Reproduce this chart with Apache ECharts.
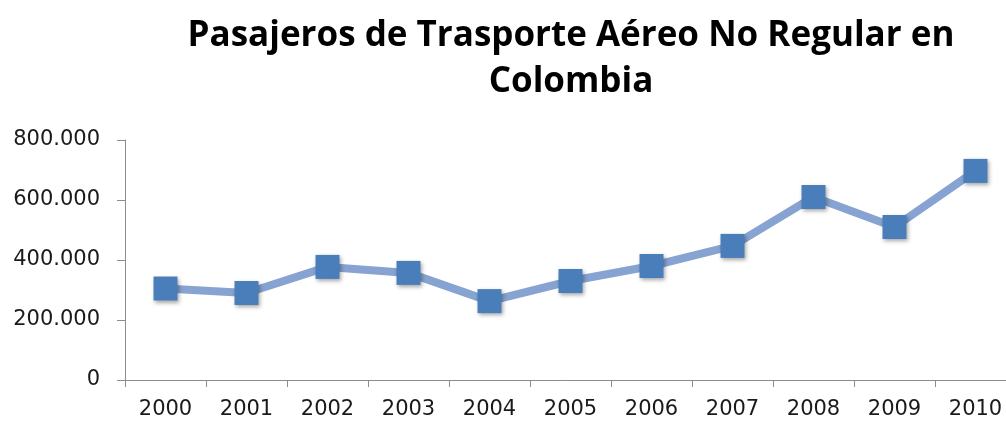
<!DOCTYPE html>
<html>
<head>
<meta charset="utf-8">
<script src="https://cdn.jsdelivr.net/npm/echarts@6/dist/echarts.min.js"></script>
<style>
  html, body { margin: 0; padding: 0; background: #fff; }
  #chart { width: 1006px; height: 427px; }
</style>
</head>
<body>
<div id="chart"></div>
<script>
const years = ['2000', '2001', '2002', '2003', '2004', '2005', '2006', '2007', '2008', '2009', '2010']
const pasajeros = [305000, 290000, 377000, 357000, 263000, 330000, 380000, 447000, 610000, 510000, 697000]
const titleText = 'Pasajeros de Trasporte Aéreo No Regular en\nColombia'

// formato con punto como separador de miles
const fmt = (v) => String(v).replace(/\B(?=(\d{3})+(?!\d))/g, '.')

const chart = echarts.init(document.getElementById('chart'))

const option = {
  animation: false,
  title: {
    text: titleText,
    left: 566,
    top: 8,
    textAlign: 'center',
    textStyle: {
      fontFamily: 'Open Sans',
      fontWeight: 'bold',
      fontSize: 35,
      lineHeight: 46,
      color: '#000'
    }
  },
  grid: {
    left: 125,
    top: 140,
    width: 891,
    height: 240,
    outerBoundsMode: 'none'
  },
  xAxis: {
    type: 'category',
    data: years,
    boundaryGap: true,
    axisLine: { lineStyle: { color: '#8c8c8c', width: 1 } },
    axisTick: { show: true, length: 7, lineStyle: { color: '#8c8c8c' } },
    axisLabel: {
      fontFamily: 'DejaVu Sans',
      fontSize: 21,
      color: '#1a1a1a',
      margin: 19
    }
  },
  yAxis: {
    type: 'value',
    min: 0,
    max: 800000,
    interval: 200000,
    axisLine: { show: true, lineStyle: { color: '#8c8c8c', width: 1 } },
    axisTick: { show: true, length: 8, lineStyle: { color: '#8c8c8c' } },
    splitLine: { show: false },
    axisLabel: {
      fontFamily: 'DejaVu Sans',
      fontSize: 21,
      color: '#1a1a1a',
      margin: 25,
      formatter: fmt
    }
  },
  series: [
    {
      type: 'line',
      data: pasajeros,
      symbol: 'rect',
      symbolSize: 24,
      lineStyle: { color: '#87a3d2', width: 8 },
      itemStyle: {
        color: '#4a7ebb',
        borderWidth: 0,
        shadowColor: 'rgba(0,0,0,0.35)',
        shadowBlur: 4,
        shadowOffsetX: 1,
        shadowOffsetY: 2
      }
    }
  ]
}

chart.setOption(option)
</script>
</body>
</html>
